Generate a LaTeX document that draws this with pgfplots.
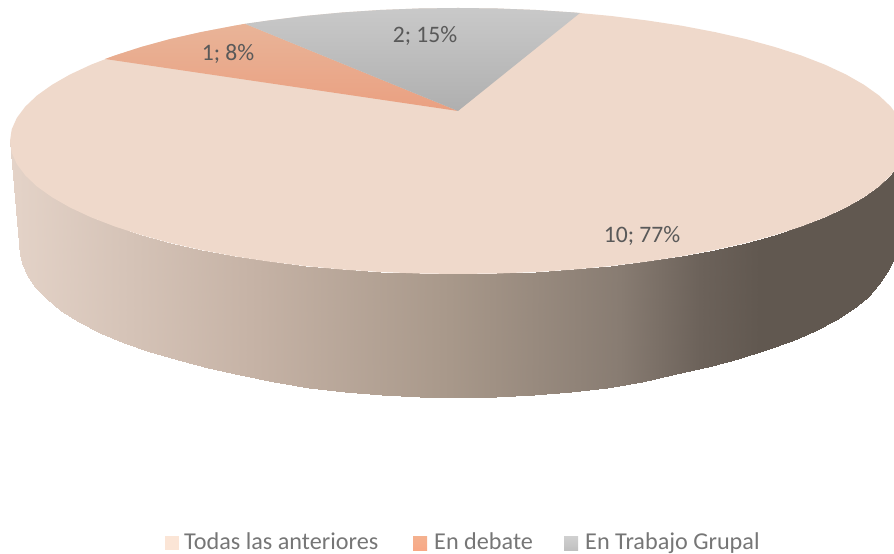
\documentclass[border=0pt]{standalone}
\usepackage{pgfplots}
\usepackage{fontspec}
\setmainfont{Carlito}
\pgfplotsset{compat=1.18}
\definecolor{main}{RGB}{239,217,203}
\definecolor{lab}{RGB}{89,89,89}
\definecolor{leg}{RGB}{118,118,118}
\begin{document}
\begin{tikzpicture}
\useasboundingbox (0,0) rectangle (894pt,554pt);
\begin{axis}[width=894pt,height=554pt,scale only axis,xmin=0,xmax=894,ymin=0,ymax=554,y dir=reverse,hide axis,view={0}{90},clip=true,
 colormap={pie}{rgb255(0.1cm)=(228,211,200); rgb255(2.5cm)=(198,179,166); rgb255(4.5cm)=(168,152,138); rgb255(6.2cm)=(136,124,114); rgb255(7.0cm)=(108,98,90); rgb255(7.6cm)=(97,88,80); rgb255(9.06cm)=(97,88,80)},
 point meta min=10,point meta max=906]
% side wall: upper edge then lower edge
\addplot3[surf,shader=interp,mesh/rows=2,point meta=x] table {
10 141 0
11.7 152.6 0
16.8 164.1 0
25.3 175.4 0
37 186.5 0
52 197.2 0
70 207.5 0
91 217.3 0
114.8 226.5 0
141.2 235 0
170 242.9 0
201 249.9 0
234 256.2 0
268.7 261.5 0
304.8 266 0
342.1 269.5 0
380.2 272 0
418.9 273.5 0
458 274 0
497.1 273.5 0
535.8 272 0
573.9 269.5 0
611.2 266 0
647.3 261.5 0
682 256.2 0
715 249.9 0
746 242.9 0
774.8 235 0
801.2 226.5 0
825 217.3 0
846 207.5 0
864 197.2 0
879 186.5 0
890.7 175.4 0
899.2 164.1 0
904.3 152.6 0
906 141 0
20 255 0
21.7 263.5 0
26.6 275.5 0
35 287.5 0
46.5 299.5 0
61 311 0
79 322.5 0
100 333 0
124 343.5 0
149.7 352.5 0
177.7 360.5 0
207.9 368 0
240 375 0
273.7 382 0
308.9 387.5 0
345.2 392 0
382.3 394.8 0
420 396.5 0
458 397 0
496 396.5 0
533.7 394.8 0
570.8 392 0
607.1 387.5 0
642.3 381.5 0
676 374.5 0
708.1 367 0
738.3 359 0
766.3 350.5 0
792 341 0
815.2 331 0
835.6 320.5 0
853.1 309.5 0
867.7 297.5 0
879.1 284.5 0
887.4 272.5 0
892.3 263 0
894 255 0
};
% top face
\addplot[draw=none,fill=main] coordinates {
(10,141)(11.7,152.6)(16.8,164.1)(25.3,175.4)(37,186.5)(52,197.2)(70,207.5)(91,217.3)(114.8,226.5)(141.2,235)(170,242.9)(201,249.9)(234,256.2)(268.7,261.5)(304.8,266)(342.1,269.5)(380.2,272)(418.9,273.5)(458,274)(497.1,273.5)(535.8,272)(573.9,269.5)(611.2,266)(647.3,261.5)(682,256.2)(715,249.9)(746,242.9)(774.8,235)(801.2,226.5)(825,217.3)(846,207.5)(864,197.2)(879,186.5)(890.7,175.4)(899.2,164.1)(904.3,152.6)(906,141)
(904.3,129.4)(899.2,117.9)(890.7,106.6)(879,95.5)(864,84.8)(846,74.5)(825,64.7)(801.2,55.5)(774.8,47)(746,39.1)(715,32.1)(682,25.8)(647.3,20.5)(611.2,16)(573.9,12.5)(535.8,10)(497.1,8.5)(458,8)(418.9,8.5)(380.2,10)(342.1,12.5)(304.8,16)(268.7,20.5)(234,25.8)(201,32.1)(170,39.1)(141.2,47)(114.8,55.5)(91,64.7)(70,74.5)(52,84.8)(37,95.5)(25.3,106.6)(16.8,117.9)(11.7,129.4)(10,141)};
% En debate
\addplot[draw=none,top color={rgb,255:red,233;green,180;blue,152},bottom color={rgb,255:red,234;green,160;blue,129}] coordinates {
(458,111)(105,59)(114.8,55.5)(141.2,47)(170,39.1)(201,32.1)(234,25.8)(245,23.8)};
% En Trabajo Grupal
\addplot[draw=none,top color={rgb,255:red,201;green,201;blue,201},bottom color={rgb,255:red,175;green,175;blue,175}] coordinates {
(458,111)(245,23.8)(268.7,20.5)(304.8,16)(342.1,12.5)(380.2,10)(418.9,8.5)(458,8)(497.1,8.5)(535.8,10)(574.1,12.5)(580,13)};
% legend swatches
\addplot[draw=none,fill={rgb,255:red,251;green,229;blue,214}] coordinates {(165,536)(179,536)(179,550)(165,550)};
\addplot[draw=none,top color={rgb,255:red,244;green,177;blue,143},bottom color={rgb,255:red,248;green,168;blue,134}] coordinates {(413,536)(427,536)(427,550)(413,550)};
\addplot[draw=none,top color={rgb,255:red,208;green,208;blue,208},bottom color={rgb,255:red,192;green,192;blue,192}] coordinates {(564,536)(578,536)(578,550)(564,550)};
\node[text=lab,font=\fontsize{23.6}{26}\selectfont] at (axis cs:642,236) {10; 77\%};
\node[text=lab,font=\fontsize{23.6}{26}\selectfont] at (axis cs:228,54) {1; 8\%};
\node[text=lab,font=\fontsize{23.6}{26}\selectfont] at (axis cs:425,36) {2; 15\%};
\node[text=leg,font=\fontsize{24.2}{26}\selectfont,anchor=base west,inner sep=0pt] at (axis cs:184,549) {Todas las anteriores};
\node[text=leg,font=\fontsize{24.2}{26}\selectfont,anchor=base west,inner sep=0pt] at (axis cs:434,549) {En debate};
\node[text=leg,font=\fontsize{24.2}{26}\selectfont,anchor=base west,inner sep=0pt] at (axis cs:585,549) {En Trabajo Grupal};
\end{axis}
\end{tikzpicture}
\end{document}
